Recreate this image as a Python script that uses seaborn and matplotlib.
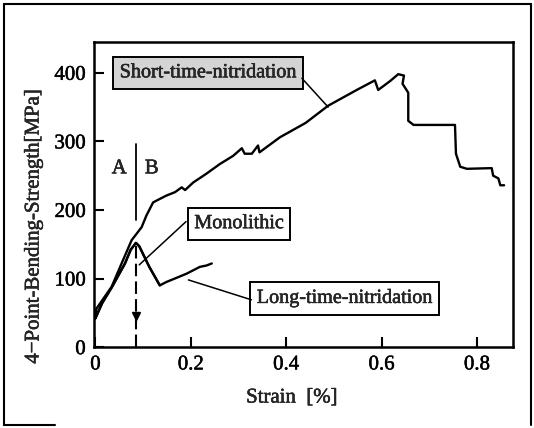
import numpy as np
import pandas as pd
import matplotlib
matplotlib.use("Agg")
import matplotlib.pyplot as plt
import matplotlib.patheffects as pe
import seaborn as sns

# Short-time-nitridation curve (strain %, MPa)
short_strain = [0.0, 0.002, 0.034, 0.058, 0.076, 0.086, 0.097, 0.107, 0.121, 0.132,
                0.149, 0.167, 0.181, 0.188, 0.205, 0.233, 0.261, 0.289, 0.307, 0.313,
                0.328, 0.341, 0.344, 0.387, 0.441, 0.488, 0.548, 0.586, 0.593, 0.618,
                0.635, 0.647, 0.644, 0.656, 0.656, 0.667, 0.754, 0.756, 0.765, 0.779,
                0.831, 0.834, 0.845, 0.849, 0.857]
short_stress = [42, 56, 88, 127, 156, 165, 175, 192, 211, 215,
                221, 226, 233, 229, 240, 253, 267, 279, 290, 282,
                282, 294, 284, 306, 327, 352, 375, 389, 375, 388,
                398, 396, 384, 371, 330, 324, 324, 282, 263, 260,
                261, 250, 246, 236, 236]

# Monolithic curve
mono_strain = [0.0, 0.014, 0.035, 0.062, 0.074, 0.085, 0.092, 0.113, 0.135]
mono_stress = [42, 64, 88, 122, 142, 152, 147, 117, 90]

# Long-time-nitridation curve
long_strain = [0.0, 0.014, 0.035, 0.062, 0.074, 0.085, 0.092, 0.113, 0.135,
               0.149, 0.191, 0.219, 0.233, 0.244]
long_stress = [42, 64, 88, 122, 142, 152, 147, 117, 90,
               95, 107, 117, 119, 122]

x_ticks = [0, 0.2, 0.4, 0.6, 0.8]
x_tick_labels = ["0", "0.2", "0.4", "0.6", "0.8"]
y_ticks = [0, 100, 200, 300, 400]

df = pd.concat([
    pd.DataFrame({"strain": short_strain, "stress": short_stress, "sample": "Short-time-nitridation"}),
    pd.DataFrame({"strain": mono_strain, "stress": mono_stress, "sample": "Monolithic"}),
    pd.DataFrame({"strain": long_strain, "stress": long_stress, "sample": "Long-time-nitridation"}),
])

sns.set_theme(style="ticks")
plt.rcParams["font.family"] = ["Liberation Serif", "DejaVu Serif"]

# scanned print looks a bit heavier than plain text
heavy = [pe.withStroke(linewidth=0.35, foreground="black")]

fig = plt.figure(figsize=(5.34, 4.28), dpi=100)
ax = fig.add_axes([0.176, 0.189, 0.785, 0.713])

sns.lineplot(data=df, x="strain", y="stress", units="sample", estimator=None,
             sort=False, color="black", linewidth=1.7, ax=ax, legend=False)

ax.set_xlim(-0.003, 0.876)
ax.set_ylim(0, 445)
ax.set_xticks(x_ticks)
ax.set_xticklabels(x_tick_labels)
ax.set_yticks(y_ticks)
ax.tick_params(direction="in", length=7, width=1.5, labelsize=15, colors="black", pad=6)
for lab in ax.get_xticklabels() + ax.get_yticklabels():
    lab.set_path_effects(heavy)
for s in ax.spines.values():
    s.set_linewidth(1.8)
    s.set_color("black")
ax.set_xlabel("")
ax.set_ylabel("")

# A | B boundary and dashed arrow
ax.plot([0.086, 0.086], [185, 296], color="black", lw=1.3)
ax.plot([0.086, 0.086], [148, 0], color="black", lw=1.5, ls=(0, (6, 2.5)))
ax.plot([0.086], [46], marker="v", color="black", ms=6)
ax.text(0.050, 260, "A", fontsize=15, ha="center", va="center", path_effects=heavy)
ax.text(0.118, 260, "B", fontsize=15, ha="center", va="center", path_effects=heavy)

# labels with pointer lines
ax.text(0.236, 400, "Short-time-nitridation", fontsize=14.5, ha="center", va="center",
        path_effects=heavy,
        bbox=dict(boxstyle="square,pad=0.33", fc="#d4d4d4", ec="black", lw=1.4))
ax.annotate("", xy=(0.488, 350), xytext=(0.433, 392),
            arrowprops=dict(arrowstyle="-", color="black", lw=1.1, shrinkA=0, shrinkB=0))

ax.text(0.301, 180, "Monolithic", fontsize=14.5, ha="center", va="center",
        path_effects=heavy,
        bbox=dict(boxstyle="square,pad=0.33", fc="white", ec="black", lw=1.4))
ax.annotate("", xy=(0.092, 120), xytext=(0.190, 183),
            arrowprops=dict(arrowstyle="-", color="black", lw=1.1, shrinkA=0, shrinkB=0))

ax.text(0.522, 71, "Long-time-nitridation", fontsize=14.5, ha="center", va="center",
        path_effects=heavy,
        bbox=dict(boxstyle="square,pad=0.33", fc="white", ec="black", lw=1.4))
ax.annotate("", xy=(0.195, 98), xytext=(0.327, 69),
            arrowprops=dict(arrowstyle="-", color="black", lw=1.1, shrinkA=0, shrinkB=0))

fig.text(34 / 534, 1 - 226 / 428, "4\u2212Point-Bending-Strength[MPa]", rotation=90,
         fontsize=15, ha="center", va="center", path_effects=heavy)
fig.text(292 / 534, 1 - 398 / 428, "Strain  [%]", fontsize=15, ha="center", va="center",
         path_effects=heavy)

# outer frame of the figure
frame_kw = dict(color="black", lw=1.5, transform=fig.transFigure)
fig.add_artist(plt.Line2D([4 / 534, 4 / 534], [1 - 425 / 428, 1 - 4 / 428], **frame_kw))
fig.add_artist(plt.Line2D([4 / 534, 531 / 534], [1 - 4 / 428, 1 - 4 / 428], **frame_kw))
fig.add_artist(plt.Line2D([531 / 534, 531 / 534], [1 - 4 / 428, 1 - 425 / 428], **frame_kw))
fig.add_artist(plt.Line2D([4 / 534, 55 / 534], [1 - 425 / 428, 1 - 425 / 428], **frame_kw))

fig.savefig("out.png", dpi=100)
